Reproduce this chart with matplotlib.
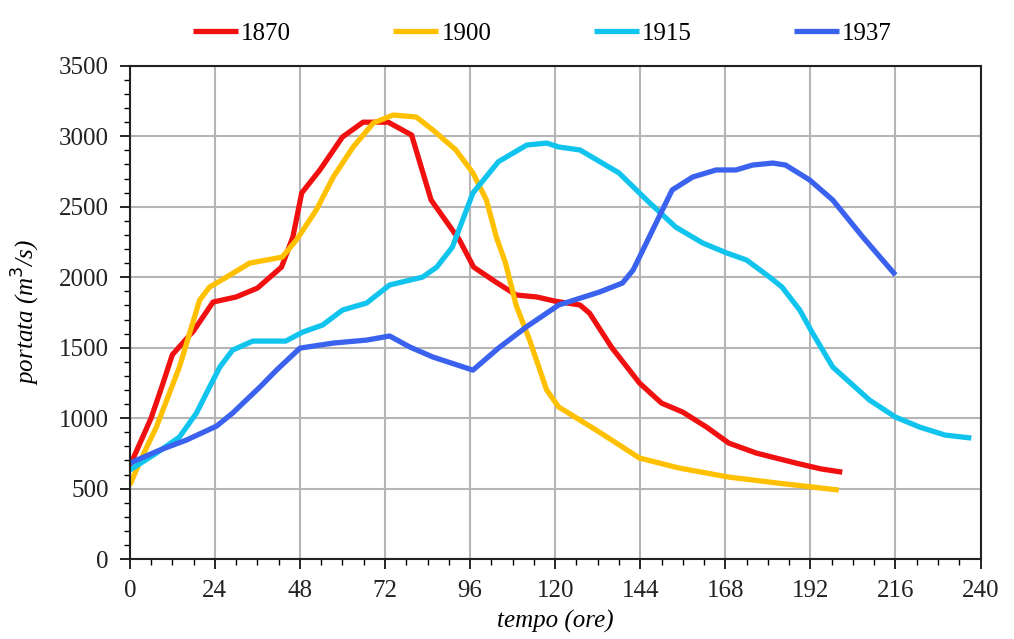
import matplotlib
matplotlib.use('Agg')
from matplotlib import pyplot as plt
from matplotlib.ticker import MultipleLocator

# hours / discharge (m3/s)
t_1870 = [0, 3, 6, 9, 12, 18, 23.5, 30, 36, 42.8, 46, 48.5, 53.6, 60, 65.8, 72.9,
          79.5, 85, 93, 97, 103, 109, 114.8, 120, 127, 129.7, 136, 143.8, 150, 156,
          162.7, 169, 176.8, 188, 195, 201]
q_1870 = [660, 830, 1000, 1220, 1450, 1620, 1824, 1860, 1923, 2072, 2285, 2598, 2760,
          2995, 3100, 3100, 3009, 2548, 2264, 2072, 1970, 1874, 1860, 1830, 1803, 1745,
          1500, 1249, 1107, 1043, 937, 823, 752, 681, 640, 617]

t_1900 = [0, 3, 7.5, 14, 19.7, 22.5, 27.3, 33.8, 43, 47, 52.6, 57.4, 63, 68.7, 74.3,
          80.8, 85.5, 92, 96.8, 100.6, 103.4, 106, 109, 112.8, 117.6, 121, 131.6,
          143.8, 155, 169, 183, 200]
q_1900 = [525, 700, 937, 1363, 1838, 1930, 2001, 2100, 2143, 2264, 2477, 2711, 2924,
          3094, 3151, 3137, 3045, 2903, 2740, 2548, 2285, 2100, 1800, 1554, 1200, 1079,
          915, 717, 646, 582, 539, 490]

t_1915 = [0, 7.5, 14, 18.8, 22.5, 25.4, 29, 34.7, 44, 48.8, 54.4, 60, 66.8, 73.3,
          82.6, 86.6, 91, 96.8, 104, 112, 117.6, 121, 127, 138, 145.8, 154, 161.6,
          168.4, 174, 180.5, 184, 189, 192.6, 198.3, 208.7, 216, 222.8, 230, 237.4]
q_1915 = [632, 752, 866, 1036, 1221, 1363, 1483, 1547, 1547, 1611, 1661, 1767, 1817,
          1945, 2001, 2072, 2214, 2598, 2820, 2938, 2952, 2924, 2903, 2740, 2548, 2356,
          2243, 2172, 2122, 2001, 1930, 1767, 1604, 1363, 1128, 1008, 937, 880, 859]

t_1937 = [0, 8.5, 16, 24.5, 29, 36.7, 41.4, 48, 57.4, 66.8, 73.3, 79, 85.5, 96.8,
          104, 112, 121, 132.5, 139, 142, 147.5, 153, 158.8, 165.4, 171, 175.7, 181.4,
          185, 191.8, 198.3, 206.8, 216]
q_1937 = [681, 774, 845, 944, 1036, 1221, 1341, 1497, 1533, 1554, 1583, 1505, 1434,
          1341, 1497, 1650, 1803, 1895, 1959, 2051, 2335, 2619, 2711, 2761, 2761, 2796,
          2810, 2796, 2690, 2548, 2285, 2016]

series = [('1870', t_1870, q_1870, '#f01010'),
          ('1900', t_1900, q_1900, '#ffc000'),
          ('1915', t_1915, q_1915, '#10c4ee'),
          ('1937', t_1937, q_1937, '#3b62ee')]

plt.rcParams['font.family'] = 'Liberation Serif'

fig = plt.figure(figsize=(10.14, 6.39), dpi=100)
ax = fig.add_axes([0.128, 0.125, 0.839, 0.772])

for name, t, q, c in series:
    ax.plot(t, q, color=c, lw=3.8, label=name, solid_capstyle='butt')

ax.set_xlim(0, 240)
ax.set_ylim(0, 3500)
ax.xaxis.set_major_locator(MultipleLocator(24))
ax.xaxis.set_minor_locator(MultipleLocator(6))
ax.yaxis.set_major_locator(MultipleLocator(500))
ax.yaxis.set_minor_locator(MultipleLocator(100))
ax.tick_params(which='major', direction='out', length=7, width=1.2,
               labelsize=18, colors='black', pad=8, labelcolor='#222222')
ax.tick_params(which='minor', direction='out', length=4, width=1.0)
ax.grid(True, which='major', color='#b5b5b5', lw=1.5)
ax.set_axisbelow(True)
for s in ax.spines.values():
    s.set_linewidth(1.5)
    s.set_color('#222222')

ax.set_ylabel(r'portata (m$^3$/s)', fontsize=18, style='italic', labelpad=12)
ax.set_xlabel('tempo (ore)', fontsize=18, style='italic', labelpad=6)

fig.legend(loc='upper center', bbox_to_anchor=(0.535, 1.0), ncol=4,
           frameon=False, fontsize=18, handlelength=1.8, handletextpad=0.12,
           columnspacing=4.1, borderaxespad=0.5)

fig.savefig('out.png', dpi=100)
